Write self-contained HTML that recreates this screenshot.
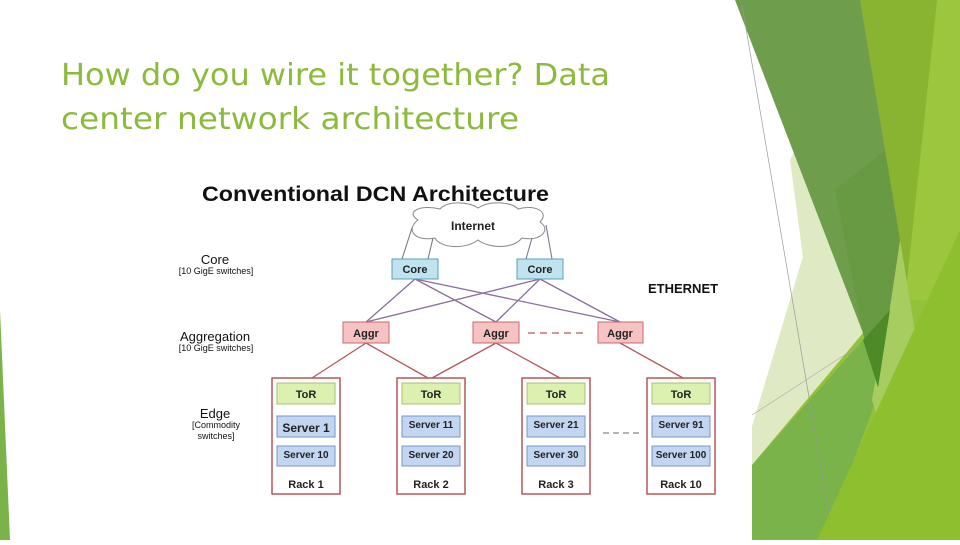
<!DOCTYPE html>
<html><head><meta charset="utf-8"><style>
body{margin:0;width:960px;height:540px;overflow:hidden;background:#fff;font-family:"Liberation Sans",sans-serif}
</style></head><body>
<svg width="960" height="540" viewBox="0 0 960 540" xmlns="http://www.w3.org/2000/svg" font-family="Liberation Sans, sans-serif">
<rect width="960" height="540" fill="#fff"/>
<rect x="752" y="0" width="208" height="540" fill="#93c13a"/>
<polygon points="937,0 960,0 960,300 905,300" fill="#9bc63e"/>
<polygon points="860,0 937,0 905,300 900,240" fill="#88b432"/>
<polygon points="752,465 863,340 880,390 850,470 817,540 752,540" fill="#7ab34a"/>
<polygon points="900,240 917,343 878,420 872,400" fill="#a7cc60"/>
<polygon points="817,540 960,230 960,540" fill="#8dbf2e"/>
<polygon points="770,60 863,333 752,465 752,427 803,257" fill="#dfeac4"/>
<polygon points="730,0 810,0 810,120 790,160 803,257 752,427 730,427" fill="#fff"/>
<polygon points="735,0 860,0 900,240 878,387 863,333" fill="#6e9e4c"/>
<polygon points="835,190 885,150 900,240 878,387 863,333" fill="#679a42"/>
<polygon points="863,340 890,310 878,387" fill="#4e8a28"/>
<line x1="742" y1="5" x2="830" y2="520" stroke="#999" stroke-width="0.7"/>
<line x1="752" y1="415" x2="860" y2="345" stroke="#aaa" stroke-width="0.6"/>
<polygon points="0,310 10,540 0,540" fill="#7ab34a"/>
<text x="61" y="85" font-size="30" fill="#8cba3c" font-family="DejaVu Sans, sans-serif" textLength="549" lengthAdjust="spacingAndGlyphs">How do you wire it together? Data</text>
<text x="61" y="129" font-size="30" fill="#8cba3c" font-family="DejaVu Sans, sans-serif" textLength="458" lengthAdjust="spacingAndGlyphs">center network architecture</text>
<text x="202" y="201" font-size="21" font-weight="bold" fill="#111" textLength="347" lengthAdjust="spacingAndGlyphs">Conventional DCN Architecture</text>
<g fill="#fff" stroke="#888" stroke-width="1">
<path d="M418,220 C405,212 420,204 440,209 C448,200 470,202 478,208 C490,200 512,202 518,209 C535,204 550,212 540,222 C552,230 540,242 522,238 C512,250 488,248 478,240 C465,250 440,248 435,238 C415,242 405,230 418,220 Z"/>
</g>
<text x="473" y="230" font-size="12" font-weight="bold" text-anchor="middle" fill="#222">Internet</text>
<g stroke="#7a7a8a" stroke-width="1.1" fill="none">
<path d="M412,228 L402,259"/><path d="M433,238 L428,259"/>
<path d="M532,238 L526,259"/><path d="M546,225 L552,259"/>
</g>
<g stroke="#8a6f9a" stroke-width="1.3">
<line x1="415" y1="279" x2="366" y2="322"/><line x1="415" y1="279" x2="496" y2="322"/><line x1="415" y1="279" x2="620" y2="322"/>
<line x1="540" y1="279" x2="366" y2="322"/><line x1="540" y1="279" x2="496" y2="322"/><line x1="540" y1="279" x2="620" y2="322"/>
</g>
<g stroke="#b5575a" stroke-width="1.3">
<line x1="366" y1="343" x2="312" y2="378"/><line x1="366" y1="343" x2="428" y2="378"/>
<line x1="496" y1="343" x2="432" y2="378"/><line x1="496" y1="343" x2="560" y2="378"/>
<line x1="620" y1="343" x2="683" y2="378"/>
</g>
<g stroke="#5aa0b8" fill="#bfe3ef">
<rect x="392" y="259" width="46" height="20"/><rect x="517" y="259" width="46" height="20"/>
</g>
<g font-size="11" font-weight="bold" text-anchor="middle" fill="#222">
<text x="415" y="273">Core</text><text x="540" y="273">Core</text>
</g>
<g stroke="#c76b6b" fill="#f6c2c2">
<rect x="343" y="322" width="46" height="21"/><rect x="473" y="322" width="46" height="21"/><rect x="598" y="322" width="45" height="21"/>
</g>
<g font-size="11" font-weight="bold" text-anchor="middle" fill="#222">
<text x="366" y="337">Aggr</text><text x="496" y="337">Aggr</text><text x="620" y="337">Aggr</text>
</g>
<line x1="528" y1="333" x2="585" y2="333" stroke="#b5575a" stroke-width="1.3" stroke-dasharray="7,5"/>
<line x1="603" y1="433" x2="643" y2="433" stroke="#888" stroke-width="1.3" stroke-dasharray="6,4"/>
<text x="648" y="293" font-size="13" font-weight="bold" fill="#111">ETHERNET</text>
<g stroke="#b5575a" stroke-width="1.5" fill="#fff">
<rect x="272" y="378" width="68" height="116"/><rect x="397" y="378" width="68" height="116"/>
<rect x="522" y="378" width="68" height="116"/><rect x="647" y="378" width="68" height="116"/>
</g>
<g stroke="#a8c070" fill="#dcf0b0">
<rect x="277" y="383" width="58" height="21"/><rect x="402" y="383" width="58" height="21"/>
<rect x="527" y="383" width="58" height="21"/><rect x="652" y="383" width="58" height="21"/>
</g>
<g stroke="#7a95c0" fill="#c2d6f2">
<rect x="277" y="416" width="58" height="21"/><rect x="402" y="416" width="58" height="21"/>
<rect x="527" y="416" width="58" height="21"/><rect x="652" y="416" width="58" height="21"/>
<rect x="277" y="446" width="58" height="20"/><rect x="402" y="446" width="58" height="20"/>
<rect x="527" y="446" width="58" height="20"/><rect x="652" y="446" width="58" height="20"/>
</g>
<g font-size="11" font-weight="bold" text-anchor="middle" fill="#222">
<text x="306" y="398">ToR</text><text x="431" y="398">ToR</text><text x="556" y="398">ToR</text><text x="681" y="398">ToR</text>
<text x="306" y="432" font-size="12">Server 1</text><text x="431" y="428" font-size="10">Server 11</text><text x="556" y="428" font-size="10">Server 21</text><text x="681" y="428" font-size="10">Server 91</text>
<text x="306" y="458" font-size="10">Server 10</text><text x="431" y="458" font-size="10">Server 20</text><text x="556" y="458" font-size="10">Server 30</text><text x="681" y="458" font-size="10">Server 100</text>
<text x="306" y="488">Rack 1</text><text x="431" y="488">Rack 2</text><text x="556" y="488">Rack 3</text><text x="681" y="488">Rack 10</text>
</g>
<g text-anchor="middle" fill="#111">
<text x="215" y="264" font-size="13">Core</text>
<text x="216" y="274" font-size="9">[10 GigE switches]</text>
<text x="215" y="341" font-size="13">Aggregation</text>
<text x="216" y="351" font-size="9">[10 GigE switches]</text>
<text x="215" y="418" font-size="13">Edge</text>
<text x="216" y="428" font-size="9">[Commodity</text>
<text x="216" y="439" font-size="9">switches]</text>
</g>
</svg>
</body></html>
